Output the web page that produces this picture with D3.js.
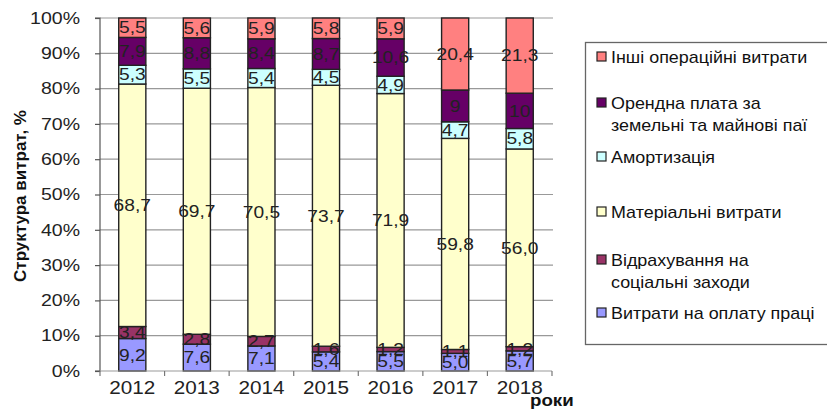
<!DOCTYPE html>
<html><head><meta charset="utf-8">
<script src="https://cdn.jsdelivr.net/npm/d3@7"></script>
<style>body{margin:0;background:#fff}svg{display:block}</style>
</head><body>
<script>
const years = ["2012","2013","2014","2015","2016","2017","2018"];
const wages    = [9.2, 7.6, 7.1, 5.4, 5.5, 5.0, 5.7];
const social   = [3.4, 2.8, 2.7, 1.6, 1.2, 1.1, 1.2];
const material = [68.7, 69.7, 70.5, 73.7, 71.9, 59.8, 56.0];
const amort    = [5.3, 5.5, 5.4, 4.5, 4.9, 4.7, 5.8];
const rent     = [7.9, 8.8, 8.4, 8.7, 10.6, 9, 10];
const other    = [5.5, 5.6, 5.9, 5.8, 5.9, 20.4, 21.3];
const labels = {
  wages:["9,2","7,6","7,1","5,4","5,5","5,0","5,7"],
  social:["3,4","2,8","2,7","1,6","1,2","1,1","1,2"],
  material:["68,7","69,7","70,5","73,7","71,9","59,8","56,0"],
  amort:["5,3","5,5","5,4","4,5","4,9","4,7","5,8"],
  rent:["7,9","8,8","8,4","8,7","10,6","9","10"],
  other:["5,5","5,6","5,9","5,8","5,9","20,4","21,3"]
};
const yTicks = [0,10,20,30,40,50,60,70,80,90,100];
const seriesNames = {
  other:["Інші операційні витрати"],
  rent:["Орендна плата за","земельні та майнові паї"],
  amort:["Амортизація"],
  material:["Матеріальні витрати"],
  social:["Відрахування на","соціальні заходи"],
  wages:["Витрати на оплату праці"]
};
const colors = {wages:"#9999FF", social:"#993366", material:"#FFFFCC", amort:"#CCFFFF", rent:"#660066", other:"#FF8080"};
const keys = ["wages","social","material","amort","rent","other"];
const vals = {wages, social, material, amort, rent, other};

const W=827, H=411;
const FONT = "'Liberation Sans', Arial, sans-serif";
const svg = d3.select("body").append("svg").attr("width",W).attr("height",H)
  .style("font-family",FONT);

// helper: horizontally stretched text
function stext(sel, px, py, sx){
  return sel.attr("transform",(d,i)=>`translate(${typeof px==="function"?px(d,i):px},${typeof py==="function"?py(d,i):py}) scale(${sx},1)`);
}

const m = {left:100, right:552, top:18, bottom:371};
const x = d3.scaleBand().domain(years).range([m.left, m.right]).paddingInner(0.58).paddingOuter(0.29);
const y = d3.scaleLinear().domain([0,1]).range([m.bottom, m.top]);

const rows = years.map((yr,i)=>{const o={year:yr}; keys.forEach(k=>o[k]=vals[k][i]); return o;});
const stack = d3.stack().keys(keys).offset(d3.stackOffsetExpand)(rows);

// gridlines
svg.append("g").selectAll("line").data(yTicks.filter(t=>t>0)).join("line")
  .attr("x1",m.left).attr("x2",m.right+1)
  .attr("y1",d=>y(d/100)).attr("y2",d=>y(d/100))
  .attr("stroke","#999").attr("stroke-width",1.2);

// bars
const g = svg.append("g");
stack.forEach(s=>{
  g.append("g").selectAll("rect").data(s).join("rect")
    .attr("x",d=>x(d.data.year)).attr("width",x.bandwidth())
    .attr("y",d=>y(d[1])).attr("height",d=>y(d[0])-y(d[1]))
    .attr("fill",colors[s.key]).attr("stroke","#222").attr("stroke-width",1.4);
});
// labels
stack.forEach(s=>{
  const t = g.append("g").selectAll("text").data(s).join("text")
    .attr("dy","0.36em").attr("text-anchor","middle")
    .attr("font-size",16).attr("fill","#222")
    .text((d,i)=>labels[s.key][i]);
  stext(t, d=>x(d.data.year)+x.bandwidth()/2, d=>(y(d[0])+y(d[1]))/2, 1.2);
});

// y axis
const ya = d3.axisLeft(y).tickValues(yTicks.map(t=>t/100)).tickFormat("").tickSize(5);
const yg = svg.append("g").attr("transform",`translate(${m.left},0)`).call(ya);
yg.select(".domain").attr("stroke","#555").attr("stroke-width",1.2).attr("d",`M-5,${m.top}H0V${m.bottom}H-5`);
yg.selectAll(".tick line").attr("stroke","#555").attr("stroke-width",1.2);
const yt = svg.append("g").selectAll("text").data(yTicks).join("text")
  .attr("text-anchor","end").attr("dy","0.36em").attr("font-size",16).attr("fill","#222")
  .text(d=>d+"%");
stext(yt, 80, d=>y(d/100), 1.22);

// x axis
const boundaries = years.map(yr=>x(yr)-x.step()*x.paddingInner()/2).concat([m.right]);
svg.append("line").attr("x1",m.left).attr("x2",m.right).attr("y1",m.bottom).attr("y2",m.bottom).attr("stroke","#999").attr("stroke-width",1.2);
svg.append("g").selectAll("line").data(boundaries).join("line")
  .attr("x1",d=>d).attr("x2",d=>d).attr("y1",m.bottom).attr("y2",m.bottom+5).attr("stroke","#777").attr("stroke-width",1.2);
const xt = svg.append("g").selectAll("text").data(years).join("text")
  .attr("text-anchor","middle").attr("font-size",18).attr("fill","#222").text(d=>d);
stext(xt, d=>x(d)+x.bandwidth()/2, 394, 1.15);

svg.append("text").attr("transform","translate(530,406) scale(1.1,1)").attr("font-size",17).attr("font-weight","bold").attr("fill","#111").text("роки");
svg.append("text").attr("transform","translate(26,196) rotate(-90)").attr("text-anchor","middle")
  .attr("font-size",17).attr("font-weight","bold").attr("fill","#111").text("Структура витрат, %");

// legend
svg.append("rect").attr("x",585.5).attr("y",42.5).attr("width",250).attr("height",302)
  .attr("fill","none").attr("stroke","#666").attr("stroke-width",1.3);
const legendRows = [
  {k:"other", y:57},
  {k:"rent", y:103},
  {k:"amort", y:157},
  {k:"material", y:212},
  {k:"social", y:260},
  {k:"wages", y:313}
];
legendRows.forEach(r=>{
  svg.append("rect").attr("x",597).attr("y",r.y-5).attr("width",9).attr("height",9)
    .attr("fill",colors[r.k]).attr("stroke","#222").attr("stroke-width",1.2);
  seriesNames[r.k].forEach((t,j)=>{
    svg.append("text").attr("transform",`translate(611,${r.y+j*22}) scale(1.12,1)`).attr("dy","0.36em")
      .attr("font-size",16).attr("fill","#111").text(t);
  });
});
</script>
</body></html>
